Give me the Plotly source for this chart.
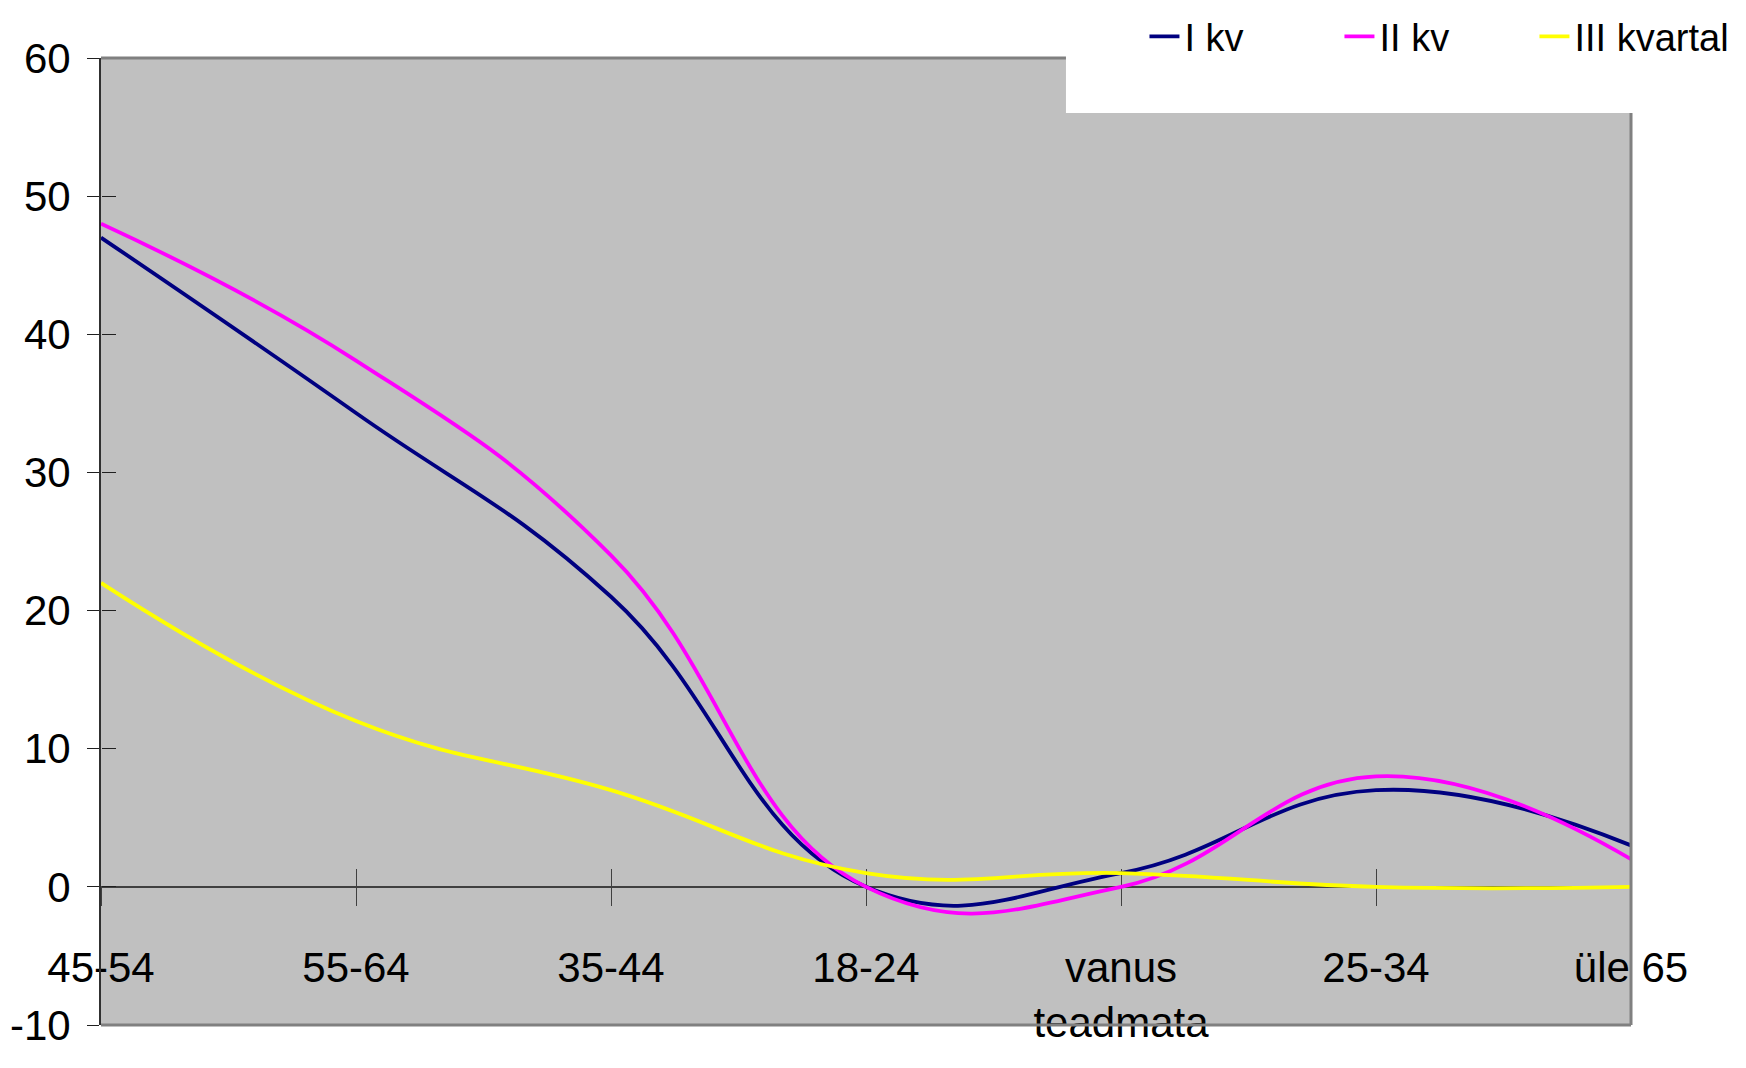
import plotly.graph_objects as go

categories = ["45-54", "55-64", "35-44", "18-24", "vanus<br>teadmata", "25-34", "üle 65"]
series_names = ["I kv", "II kv", "III kvartal"]
i_kv = [47, 34.3, 21, 0, 1, 7, 3]
ii_kv = [48, 38.1, 24, 0, 0, 8, 2]
iii_kv = [22, 12, 7, 1, 1, 0, 0]
colors = ["#000080", "#FF00FF", "#FFFF00"]
y_ticks = [-10, 0, 10, 20, 30, 40, 50, 60]
y_ticktext = [str(v) for v in y_ticks]

FONT = "Liberation Sans, Arial, sans-serif"

fig = go.Figure()
for name, vals, col in zip(series_names, [i_kv, ii_kv, iii_kv], colors):
    fig.add_trace(go.Scatter(
        x=categories, y=vals, name=name, mode="lines",
        line=dict(color=col, width=3.8, shape="spline", smoothing=1.25),
        hoverinfo="x+y+name",
    ))
# helper trace so the overlaid axes (crossing half of tick marks) are drawn
fig.add_trace(go.Scatter(x=categories, y=[None] * len(categories), xaxis="x2", yaxis="y2",
                         showlegend=False, hoverinfo="skip", mode="lines"))

# the page body adds an 8px offset, so the figure is 8px smaller and margins shifted
fig.update_layout(
    width=1738, height=1060,
    margin=dict(l=93, r=115, t=50, b=43, autoexpand=False),
    paper_bgcolor="white",
    plot_bgcolor="#C0C0C0",
    font=dict(family=FONT, size=42, color="black"),
    showlegend=True,
    legend=dict(orientation="h", x=0.682, xanchor="left", y=1.022, yanchor="middle",
                bgcolor="rgba(0,0,0,0)", font=dict(family=FONT, size=38, color="black"),
                entrywidth=150, entrywidthmode="pixels", tracegroupgap=0),
    xaxis=dict(
        type="category", range=[0, 6], anchor="free", position=10 / 70, automargin=False,
        showline=True, linecolor="#404040", linewidth=1.5, layer="below traces",
        ticks="outside", ticklen=18, tickcolor="#404040", tickwidth=1.2,
        showgrid=False, zeroline=False, ticklabelstandoff=26,
        tickfont=dict(family=FONT, size=42, color="black"),
    ),
    xaxis2=dict(
        type="category", range=[0, 6], overlaying="x", matches="x", anchor="free", position=10 / 70,
        automargin=False, showline=False, ticks="inside", ticklen=18, tickcolor="#404040", tickwidth=1.2,
        layer="below traces", showticklabels=False, showgrid=False, zeroline=False,
    ),
    yaxis=dict(
        range=[-10, 60], tickvals=y_ticks, ticktext=y_ticktext, automargin=False,
        showline=True, linecolor="#303030", linewidth=2,
        ticks="outside", ticklen=12, tickcolor="#202020", tickwidth=1.2,
        showgrid=False, zeroline=False, ticklabelstandoff=8,
        tickfont=dict(family=FONT, size=42, color="black"),
    ),
    yaxis2=dict(
        range=[-10, 60], tickvals=y_ticks, overlaying="y", matches="y", anchor="free", position=0,
        automargin=False, side="left", showline=False, ticks="inside", ticklen=14,
        tickcolor="#202020", tickwidth=1.2,
        showticklabels=False, showgrid=False, zeroline=False,
    ),
    shapes=[
        dict(type="line", xref="paper", yref="paper", x0=0, x1=1, y0=1, y1=1,
             line=dict(color="#808080", width=3), layer="above"),
        dict(type="line", xref="paper", yref="paper", x0=1, x1=1, y0=0, y1=1,
             line=dict(color="#808080", width=3), layer="above"),
        dict(type="line", xref="paper", yref="paper", x0=0, x1=1, y0=0, y1=0,
             line=dict(color="#808080", width=3), layer="above"),
        dict(type="rect", xref="paper", yref="paper", x0=0.6307, x1=1.08, y0=0.9431, y1=1.07,
             fillcolor="white", line=dict(width=0), layer="above"),
    ],
)

fig.write_html("out.html")
